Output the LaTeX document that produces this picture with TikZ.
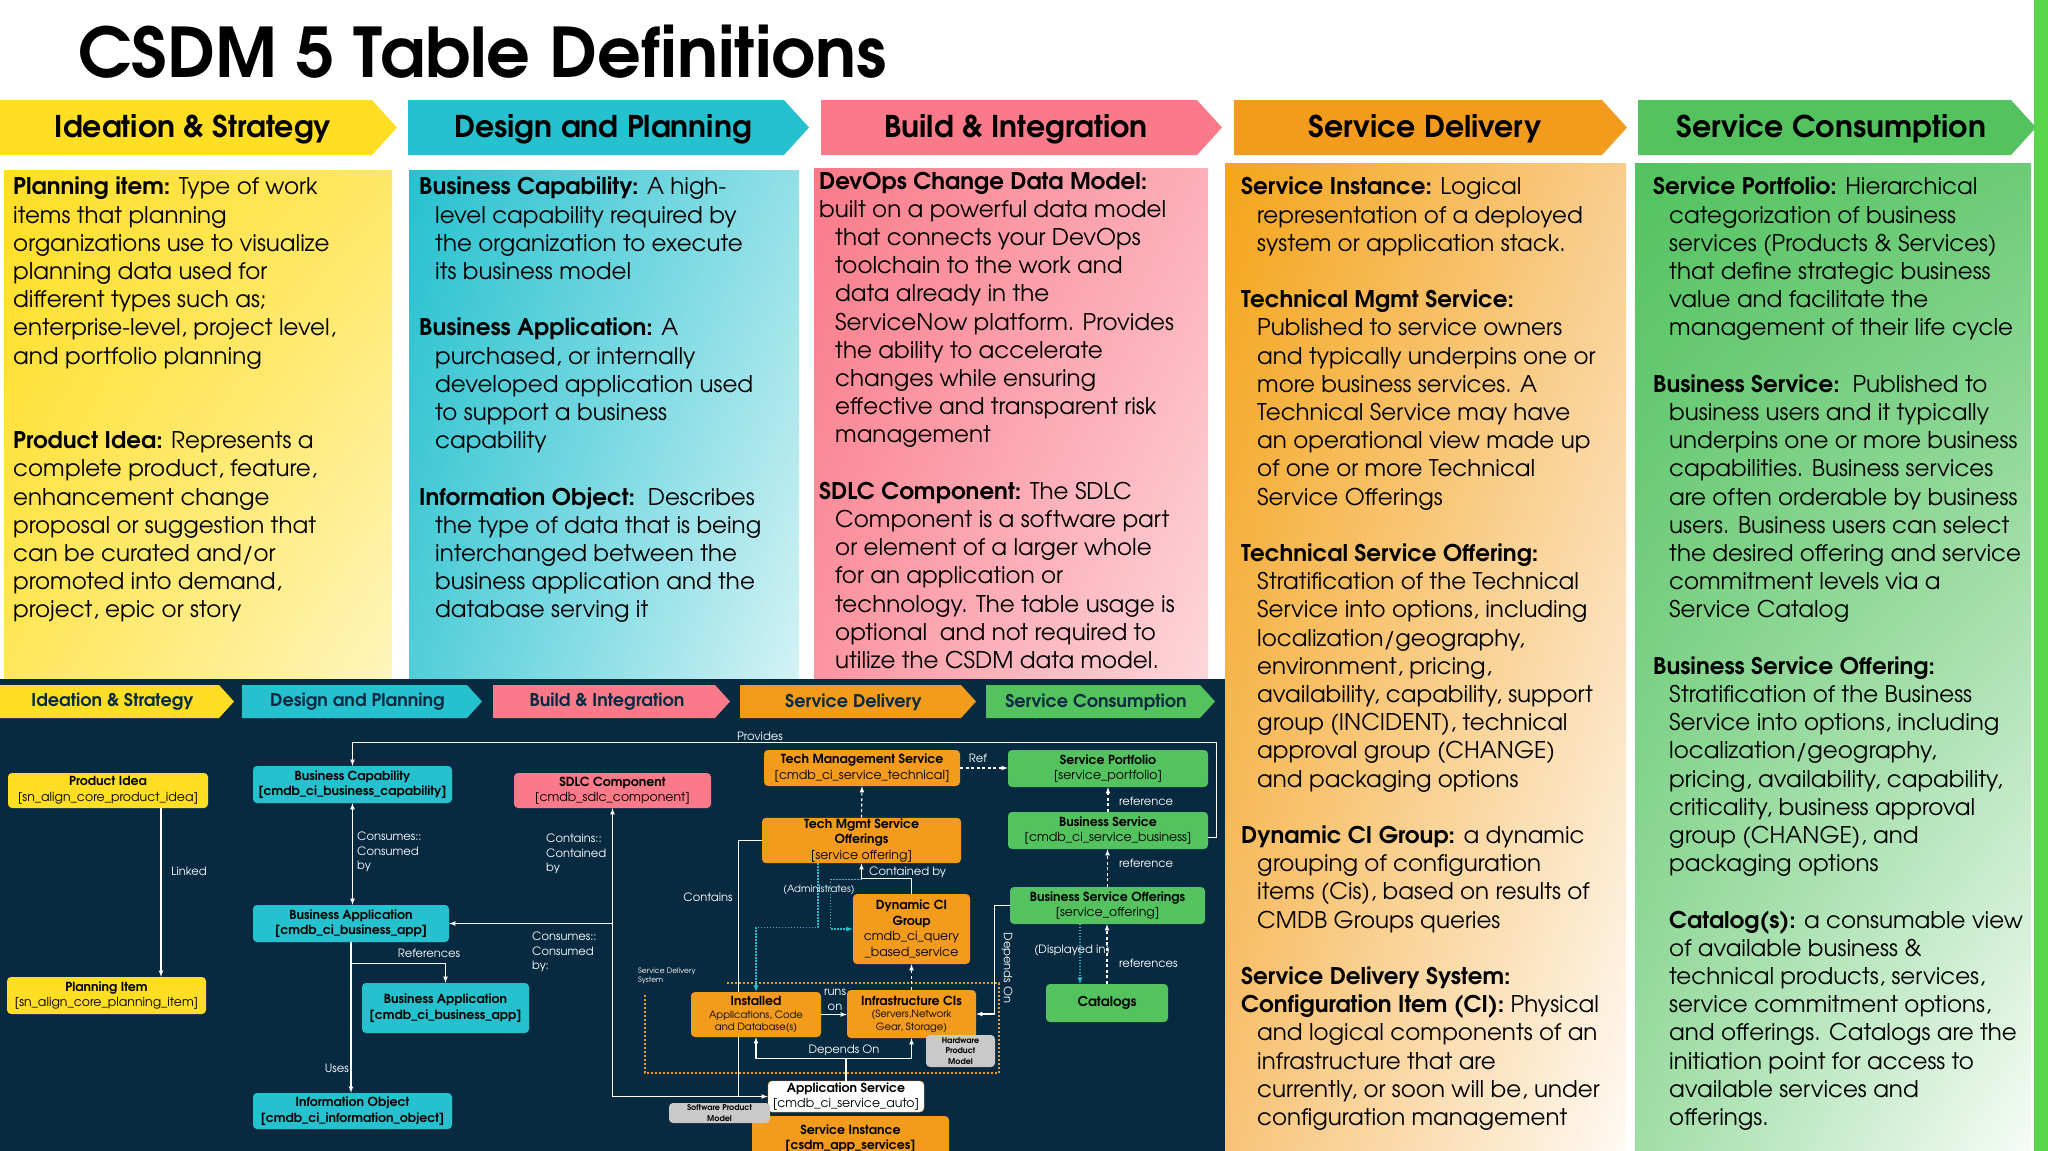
\documentclass[tikz,border=0pt]{standalone}
\usepackage{fontspec}
\setmainfont{TeX Gyre Adventor}
\usepackage{tikz}
\usetikzlibrary{arrows,calc,positioning,shadings}
\definecolor{csnavy}{RGB}{7,42,65}
\definecolor{csyellow}{RGB}{255,222,35}
\definecolor{cscyan}{RGB}{38,193,207}
\definecolor{cspink}{RGB}{250,122,137}
\definecolor{csorange}{RGB}{243,155,28}
\definecolor{csgreen}{RGB}{83,194,95}
\definecolor{csstripe}{RGB}{90,214,75}
\definecolor{csgray}{RGB}{201,201,201}
\definecolor{csdot}{RGB}{40,190,205}
\pgfdeclarelayer{back}
\pgfdeclarelayer{mid}
\pgfsetlayers{back,mid,main}
\newcommand{\hind}{\hspace*{16pt}}

\begin{document}
\begin{tikzpicture}[x=1pt,y=-1pt,
  pnl_text/.style={anchor=north west,inner sep=0pt,align=left,font=\fontsize{23}{28.2}\selectfont},
  band_text/.style={font=\bfseries\fontsize{30}{33}\selectfont},
  sband_text/.style={text=csnavy,font=\bfseries\fontsize{17.6}{20}\selectfont},
  tbl_node/.style={rounded corners=4pt,align=center,inner sep=1pt,text=black,font=\fontsize{12.5}{15.5}\selectfont},
  yl_node/.style={tbl_node,fill=csyellow},
  cy_node/.style={tbl_node,fill=cscyan,font=\bfseries\fontsize{12.5}{15.5}\selectfont},
  pk_node/.style={tbl_node,fill=cspink},
  or_node/.style={tbl_node,fill=csorange},
  gr_node/.style={tbl_node,fill=csgreen},
  gy_node/.style={tbl_node,fill=csgray,font=\bfseries\fontsize{8}{10.5}\selectfont},
  lbl/.style={inner sep=0pt,text=white,align=left,font=\fontsize{11.5}{14.4}\selectfont},
  link/.style={draw=white,line width=1.1pt},
  arr/.style={link,-latex},
  dsh/.style={arr,dash pattern=on 3pt off 2.5pt},
  cdot/.style={draw=csdot,line width=1.2pt,dash pattern=on 1.2pt off 1.8pt,-latex}]

\useasboundingbox (0,0) rectangle (2048,1151);

\begin{pgfonlayer}{back}
\fill[white] (0,0) rectangle (2048,1151);
\fill[csstripe] (2034,0) rectangle (2048,1151);
\node[anchor=base west,inner sep=0pt,font=\bfseries\fontsize{68.5}{72}\selectfont] (title) at (78,77) {CSDM 5 Table Definitions};

\foreach \xa/\xb/\bandcol/\bandtxt in {0/372/csyellow/Ideation \& Strategy, 408/784/cscyan/Design and Planning, 821/1197/cspink/Build \& Integration, 1234/1602/csorange/Service Delivery, 1638/2011/csgreen/Service Consumption}{
  \fill[\bandcol] (\xa,100) -- (\xb,100) -- (\xb+25,127.5) -- (\xb,155) -- (\xa,155) -- cycle;
  \node[band_text] (band_\xa) at ({(\xa+\xb)/2+7},129) {\bandtxt};
}

\shade[upper left=csyellow,upper right=csyellow!70!white,lower left=csyellow!75!white,lower right=csyellow!30!white] (4,170) rectangle (392,680);
\shade[upper left=cscyan,upper right=cscyan!50!white,lower left=cscyan!80!white,lower right=cscyan!20!white] (409,170) rectangle (799,680);
\shade[upper left=cspink,upper right=cspink!60!white,lower left=cspink!80!white,lower right=cspink!30!white] (814,168) rectangle (1208,680);
\shade[upper left=csorange!90!yellow,upper right=csorange!50!white,lower left=csorange!60!white,lower right=csorange!5!white] (1225,163) rectangle (1626,1151);
\shade[upper left=csgreen,upper right=csgreen!85!white,lower left=csgreen!55!white,lower right=csgreen!5!white] (1635,163) rectangle (2031,1151);

\fill[csnavy] (0,679) rectangle (1225,1151);

\foreach \xa/\xb/\bandcol/\bandtxt in {0/219/csyellow/Ideation \& Strategy, 242/467/cscyan/Design and Planning, 493/715/cspink/Build \& Integration, 740/961/csorange/Service Delivery, 986/1200/csgreen/Service Consumption}{
  \fill[\bandcol] (\xa,685) -- (\xb,685) -- (\xb+15,701.5) -- (\xb,718) -- (\xa,718) -- cycle;
  \node[sband_text] (sband_\xa) at ({(\xa+\xb)/2+3},702) {\bandtxt};
}

\draw[csorange,line width=1.8pt,dash pattern=on 1.8pt off 2.2pt] (727,983) -- (999,983) -- (999,1073) -- (645,1073) -- (645,995);
\end{pgfonlayer}

\node[pnl_text] (ideation_txt) at (13,177) {\textbf{Planning item:} Type of work\\
items that planning\\
organizations use to visualize\\
planning data used for\\
different types such as;\\
enterprise-level, project level,\\
and portfolio planning\\[56.4pt]
\textbf{Product Idea:} Represents a\\
complete product, feature,\\
enhancement change\\
proposal or suggestion that\\
can be curated and/or\\
promoted into demand,\\
project, epic or story};

\node[pnl_text] (design_txt) at (419,177) {\textbf{Business Capability:} A high-\\
\hind level capability required by\\
\hind the organization to execute\\
\hind its business model\\[28.2pt]
\textbf{Business Application:} A\\
\hind purchased, or internally\\
\hind developed application used\\
\hind to support a business\\
\hind capability\\[28.2pt]
\textbf{Information Object:}\ \ Describes\\
\hind the type of data that is being\\
\hind interchanged between the\\
\hind business application and the\\
\hind database serving it};

\node[pnl_text] (build_txt) at (819,171.5) {\textbf{DevOps Change Data Model:}\\
built on a powerful data model\\
\hind that connects your DevOps\\
\hind toolchain to the work and\\
\hind data already in the\\
\hind ServiceNow platform. Provides\\
\hind the ability to accelerate\\
\hind changes while ensuring\\
\hind effective and transparent risk\\
\hind management\\[28.2pt]
\textbf{SDLC Component:} The SDLC\\
\hind Component is a software part\\
\hind or element of a larger whole\\
\hind for an application or\\
\hind technology. The table usage is\\
\hind optional\ \ and not required to\\
\hind utilize the CSDM data model.};

\node[pnl_text] (delivery_txt) at (1241,177) {\textbf{Service Instance:} Logical\\
\hind representation of a deployed\\
\hind system or application stack.\\[28.2pt]
\textbf{Technical Mgmt Service:}\\
\hind Published to service owners\\
\hind and typically underpins one or\\
\hind more business services. A\\
\hind Technical Service may have\\
\hind an operational view made up\\
\hind of one or more Technical\\
\hind Service Offerings\\[28.2pt]
\textbf{Technical Service Offering:}\\
\hind Stratification of the Technical\\
\hind Service into options, including\\
\hind localization/geography,\\
\hind environment, pricing,\\
\hind availability, capability, support\\
\hind group (INCIDENT), technical\\
\hind approval group (CHANGE)\\
\hind and packaging options\\[28.2pt]
\textbf{Dynamic CI Group:} a dynamic\\
\hind grouping of configuration\\
\hind items (Cis), based on results of\\
\hind CMDB Groups queries\\[28.2pt]
\textbf{Service Delivery System:}\\
\textbf{Configuration Item (CI):} Physical\\
\hind and logical components of an\\
\hind infrastructure that are\\
\hind currently, or soon will be, under\\
\hind configuration management};

\node[pnl_text] (consumption_txt) at (1653,177) {\textbf{Service Portfolio:} Hierarchical\\
\hind categorization of business\\
\hind services (Products \& Services)\\
\hind that define strategic business\\
\hind value and facilitate the\\
\hind management of their life cycle\\[28.2pt]
\textbf{Business Service:}\ \ Published to\\
\hind business users and it typically\\
\hind underpins one or more business\\
\hind capabilities. Business services\\
\hind are often orderable by business\\
\hind users. Business users can select\\
\hind the desired offering and service\\
\hind commitment levels via a\\
\hind Service Catalog\\[28.2pt]
\textbf{Business Service Offering:}\\
\hind Stratification of the Business\\
\hind Service into options, including\\
\hind localization/geography,\\
\hind pricing, availability, capability,\\
\hind criticality, business approval\\
\hind group (CHANGE), and\\
\hind packaging options\\[28.2pt]
\hind\textbf{Catalog(s):} a consumable view\\
\hind of available business \&\\
\hind technical products, services,\\
\hind service commitment options,\\
\hind and offerings. Catalogs are the\\
\hind initiation point for access to\\
\hind available services and\\
\hind offerings.};

\node[yl_node,minimum width=200pt,minimum height=35pt] (pidea) at (108,790.5) {\textbf{Product Idea}\\{[sn\_align\_core\_product\_idea]}};
\node[yl_node,minimum width=199pt,minimum height=37pt] (pitem) at (106.5,995.5) {\textbf{Planning Item}\\{[sn\_align\_core\_planning\_item]}};
\node[cy_node,minimum width=199pt,minimum height=37pt] (bcap) at (352.5,784.5) {Business Capability\\{[cmdb\_ci\_business\_capability]}};
\node[cy_node,minimum width=196pt,minimum height=37pt] (bapp1) at (351,923.5) {Business Application\\{[cmdb\_ci\_business\_app]}};
\node[cy_node,minimum width=167pt,minimum height=50pt] (bapp2) at (445.5,1008) {Business Application\\{[cmdb\_ci\_business\_app]}};
\node[cy_node,minimum width=199pt,minimum height=36pt] (infobj) at (352.5,1111) {Information Object\\{[cmdb\_ci\_information\_object]}};
\node[pk_node,minimum width=197pt,minimum height=35pt] (sdlc) at (612.5,790.5) {\textbf{SDLC Component}\\{[cmdb\_sdlc\_component]}};
\node[or_node,minimum width=196pt,minimum height=36pt] (tms) at (862,768) {\textbf{Tech Management Service}\\{[cmdb\_ci\_service\_technical]}};
\node[or_node,minimum width=199pt,minimum height=45pt] (tmso) at (861.5,840.5) {\textbf{\fontsize{12.5}{15}\selectfont Tech Mgmt Service}\\\textbf{\fontsize{12.5}{15}\selectfont Offerings}\\{[service offering]}};
\node[or_node,minimum width=117pt,minimum height=70pt] (dyn) at (911.5,929) {\textbf{\fontsize{12.5}{15}\selectfont Dynamic CI}\\\textbf{\fontsize{12.5}{15}\selectfont Group}\\cmdb\_ci\_query\\\_based\_service};
\node[or_node,minimum width=130pt,minimum height=45pt,font=\fontsize{10}{12.5}\selectfont] (inst) at (756,1014.5) {\textbf{\fontsize{12.5}{14}\selectfont Installed}\\Applications, Code\\and Database(s)};
\node[or_node,minimum width=129pt,minimum height=48pt,font=\fontsize{10}{12.5}\selectfont] (infra) at (911.5,1014) {\textbf{\fontsize{12.5}{14}\selectfont Infrastructure CIs}\\(Servers,Network\\Gear, Storage)};
\node[gy_node,minimum width=69pt,minimum height=32pt] (hpm) at (960.5,1051) {Hardware\\Product\\Model};
\node[or_node,minimum width=197pt,minimum height=46pt,font=\bfseries\fontsize{12.5}{15}\selectfont] (sinst) at (850.5,1139) {Service Instance\\{[csdm\_app\_services]}};
\node[tbl_node,fill=white,draw=csorange,minimum width=156pt,minimum height=31pt] (appsvc) at (846,1096.5) {\textbf{Application Service}\\{[cmdb\_ci\_service\_auto]}};
\node[gy_node,minimum width=101pt,minimum height=20pt] (spm) at (719.5,1113) {Software Product\\Model};
\node[gr_node,minimum width=200pt,minimum height=37pt] (sport) at (1108,768.5) {\textbf{Service Portfolio}\\{[service\_portfolio]}};
\node[gr_node,minimum width=200pt,minimum height=37pt] (bsvc) at (1108,830.5) {\textbf{Business Service}\\{[cmdb\_ci\_service\_business]}};
\node[gr_node,minimum width=195pt,minimum height=37pt] (bso) at (1107.5,905.5) {\textbf{Business Service Offerings}\\{[service\_offering]}};
\node[gr_node,minimum width=122pt,minimum height=38pt] (cat) at (1107,1003) {\textbf{\fontsize{13.5}{15}\selectfont Catalogs}};

\begin{pgfonlayer}{mid}
\coordinate (linked_a) at ($(pidea.south)+(53,0)$);
\draw[arr] (linked_a) -- (linked_a |- pitem.north);
\draw[link,latex-latex] (bcap.south) -- (bcap.south |- bapp1.north);
\draw[arr] (bapp1.south) -- (bapp1.south |- infobj.north);
\coordinate (ref_a) at ($(bapp1.south)+(0,21)$);
\draw[arr] (ref_a) -| (bapp2.north);
\coordinate (prov_a) at ($(bsvc.east)+(0,7)$);
\draw[arr] (prov_a) -- ++(8,0) |- ($(bcap.north)+(0,-23)$) -- (bcap.north);
\coordinate (sdlc_j) at (sdlc.south |- bapp1.east);
\draw[arr] (sdlc_j) -- (bapp1.east);
\draw[arr] (sdlc_j) -- (sdlc.south);
\draw[arr] (sdlc_j) |- (appsvc.west);
\draw[link] (tmso.west) -| ($(appsvc.west)+(-29,0)$);
\draw[dsh] (tmso.north) -- (tms.south);
\draw[arr] (dyn.north) -- ++(0,-15) -| (tmso.south);
\draw[cdot] ($(tmso.south)+(-43.5,0)$) -- ++(0,64) -| (inst.north);
\draw[cdot] ($(tmso.south)+(0,16)$) -| ($(dyn.west)+(-22,0)$) -- (dyn.west);
\draw[arr] (inst.east) -- (inst.east -| infra.west);
\draw[dsh] (infra.north) -- (dyn.south);
\draw[arr] (appsvc.north) -- ++(0,-22) -| (inst.south);
\draw[arr] (appsvc.north) -- ++(0,-22) -| (infra.south);
\draw[dsh] (tms.east) -- (tms.east -| sport.west);
\draw[dsh] (bsvc.north) -- (sport.south);
\draw[dsh] (bso.north) -- (bso.north |- bsvc.south);
\draw[dsh] (cat.north) -- (cat.north |- bso.south);
\coordinate (disp_a) at ($(bso.south)+(-27.5,0)$);
\draw[cdot] (disp_a) -- (disp_a |- cat.north);
\draw[arr] (bso.west) -| ($(infra.east)+(18,0)$) -- (infra.east);
\end{pgfonlayer}

\node[lbl] (linked_lbl) at (189,871) {Linked};
\node[lbl,anchor=west] (cons_lbl) at (357,852) {Consumes::\\Consumed\\by};
\node[lbl,anchor=east] (uses_lbl) at (349,1068) {Uses};
\node[lbl] (refs_lbl) at (429,953) {References};
\node[lbl] (prov_lbl) at (760,736) {Provides};
\node[lbl,anchor=west] (cont_lbl) at (546,854) {Contains::\\Contained\\by};
\node[lbl,anchor=west] (cons2_lbl) at (532,952) {Consumes::\\Consumed\\by:};
\node[lbl] (contains_lbl) at (708,897) {Contains};
\node[lbl,anchor=west] (contby_lbl) at (869,872) {Contained by};
\node[lbl,font=\fontsize{10}{12}\selectfont] (adm_lbl) at (819,890) {(Administrates)};
\node[lbl,align=center] (runs_lbl) at (835,1000) {runs\\on};
\node[lbl] (dep_lbl) at (844,1050) {Depends On};
\node[lbl] (ref_lbl) at (978,758) {Ref};
\node[lbl,anchor=west] (r1_lbl) at (1119,801) {reference};
\node[lbl,anchor=west] (r2_lbl) at (1119,863) {reference};
\node[lbl,anchor=west] (r3_lbl) at (1119,963) {references};
\node[lbl] (disp_lbl) at (1072,951) {(Displayed in)};
\node[lbl,rotate=-90] (dep2_lbl) at (1007,968) {Depends On};
\node[lbl,anchor=north west,font=\fontsize{7.5}{9}\selectfont] (sds_lbl) at (638,968) {Service Delivery\\System};
\end{tikzpicture}
\end{document}
